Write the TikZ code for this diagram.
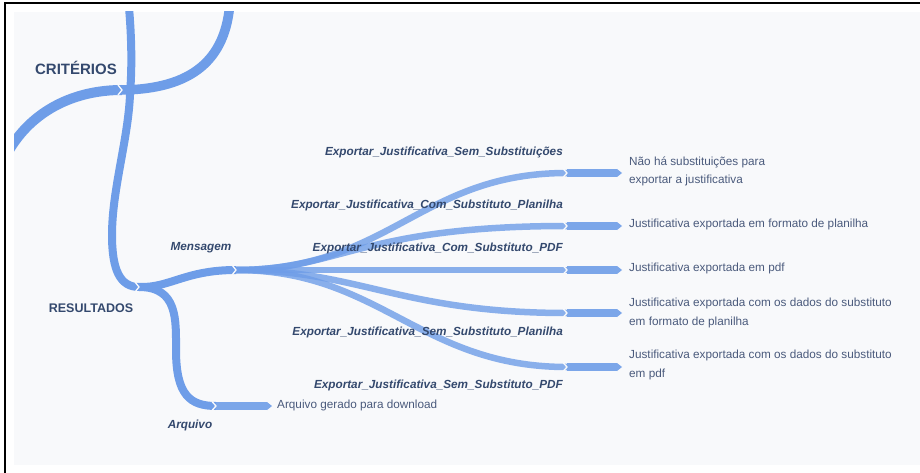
\documentclass[tikz,border=0pt]{standalone}
\usepackage{fontspec}
\setmainfont{Liberation Sans}
\definecolor{branch}{HTML}{6E9DE8}
\definecolor{fanblue}{HTML}{6E9DE8}
\definecolor{lab}{HTML}{34496E}
\definecolor{txt}{HTML}{4A5A7C}
\definecolor{panel}{HTML}{F8F9FB}

\begin{document}
\begin{tikzpicture}[x=1pt,y=-1pt,
  band/.style={draw=branch, line width=#1},
  band/.default=8pt,
  fanline/.style={draw=fanblue, line width=6.5pt, opacity=0.8},
  stubline/.style={draw=branch, line width=8pt, shorten >=5pt, opacity=0.9},
  notch/.style={draw=panel, line width=1.3pt},
  topic/.style={font=\bfseries\fontsize{#1}{#1}\selectfont, text=lab, inner sep=0pt},
  keylabel/.style={font=\bfseries\itshape\fontsize{11.75}{14}\selectfont, text=lab, inner sep=0pt},
  leaf/.style={font=\fontsize{11.75}{18.5}\selectfont, text=txt, inner sep=0pt, anchor=west, align=left}
]
% canvas, frame and panel
\useasboundingbox (0,0) rectangle (920,473);
\fill[white] (0,0) rectangle (920,473);
\fill[panel] (14,12) rectangle (920,465);
\draw[black, line width=1.6pt] (5,473) -- (5,3) -- (920,3);

% junction and end points
\coordinate (topA) at (128.5,2);
\coordinate (topB) at (230,2);
\coordinate (leftA) at (8,152);
\coordinate (cj) at (122,90);
\coordinate (rj) at (139,287);
\coordinate (mj) at (236,270);
\coordinate (aj) at (216,406);
\coordinate (ea) at (272,406);
\foreach \i/\y in {1/173,2/226,3/270,4/313,5/367}{
  \coordinate (s\i) at (567,\y);
  \coordinate (e\i) at (622,\y);
}

% main trunk and the CRITÉRIOS branches, cut off at the panel edge
\begin{scope}
\clip (14,12) rectangle (920,465);
\draw[band=10pt] (leftA) .. controls (32,110) and (75,90) .. (cj);
\draw[band=9.5pt] (cj) .. controls (192,89) and (226,60) .. (topB);
\draw[band=8pt] (topA) .. controls (133,50) and (131,80) .. (130,95)
  .. controls (128,140) and (112,190) .. (112,235)
  .. controls (112,270) and (120,287) .. (rj);
\draw[notch] (cj) ++(-4,-5) -- ++(4,5) -- ++(-4,5);
\end{scope}

% RESULTADOS branches
\draw[band=8pt] (rj) .. controls (170,288) and (185,270) .. (mj);
\draw[band=8pt] (rj) .. controls (178,287) and (176,320) .. (176,350)
  .. controls (176,395) and (190,406) .. (aj);
\draw[notch] (rj) ++(-4,-5) -- ++(4,5) -- ++(-4,5);

% Arquivo stub
\draw[stubline] (aj) -- (ea);
\fill[branch, opacity=0.9] (ea) -- ++(-5,-4) -- ++(0,8) -- cycle;
\draw[notch] (aj) ++(-4,-4.5) -- ++(4,4.5) -- ++(-4,4.5);

% Mensagem fan
\draw[fanline] (mj) .. controls (390,270) and (420,173) .. (s1);
\draw[fanline] (mj) .. controls (340,270) and (360,226) .. (s2);
\draw[fanline] (mj) -- (s3);
\draw[fanline] (mj) .. controls (360,270) and (400,313) .. (s4);
\draw[fanline] (mj) .. controls (380,270) and (420,367) .. (s5);
\draw[notch] (mj) ++(-4,-5) -- ++(4,5) -- ++(-4,5);

\foreach \i in {1,...,5}{
  \draw[stubline] (s\i) -- (e\i);
  \fill[branch, opacity=0.9] (e\i) -- ++(-5,-4) -- ++(0,8) -- cycle;
  \draw[notch] (s\i) ++(-4,-4.5) -- ++(4,4.5) -- ++(-4,4.5);
}

% topic labels
\node[topic=15] (crit) at (76,68) {CRITÉRIOS};
\node[topic=12.5] (res) at (91,308) {RESULTADOS};
\node[keylabel] (msg) at (201,248) {Mensagem};
\node[keylabel] (arq) at (190,425) {Arquivo};

% export labels
\node[keylabel, anchor=east] (k1) at (563,152) {Exportar\_Justificativa\_Sem\_Substituições};
\node[keylabel, anchor=east] (k2) at (563,205) {Exportar\_Justificativa\_Com\_Substituto\_Planilha};
\node[keylabel, anchor=east] (k3) at (563,248) {Exportar\_Justificativa\_Com\_Substituto\_PDF};
\node[keylabel, anchor=east] (k4) at (563,332) {Exportar\_Justificativa\_Sem\_Substituto\_Planilha};
\node[keylabel, anchor=east] (k5) at (563,385) {Exportar\_Justificativa\_Sem\_Substituto\_PDF};

% results
\node[leaf] (t1) at (629,171.5) {Não há substituições para\\exportar a justificativa};
\node[leaf] (t2) at (629,224) {Justificativa exportada em formato de planilha};
\node[leaf] (t3) at (629,268) {Justificativa exportada em pdf};
\node[leaf] (t4) at (629,313) {Justificativa exportada com os dados do substituto\\em formato de planilha};
\node[leaf] (t5) at (629,365) {Justificativa exportada com os dados do substituto\\em pdf};
\node[leaf] (t6) at (277,405) {Arquivo gerado para download};
\end{tikzpicture}
\end{document}
